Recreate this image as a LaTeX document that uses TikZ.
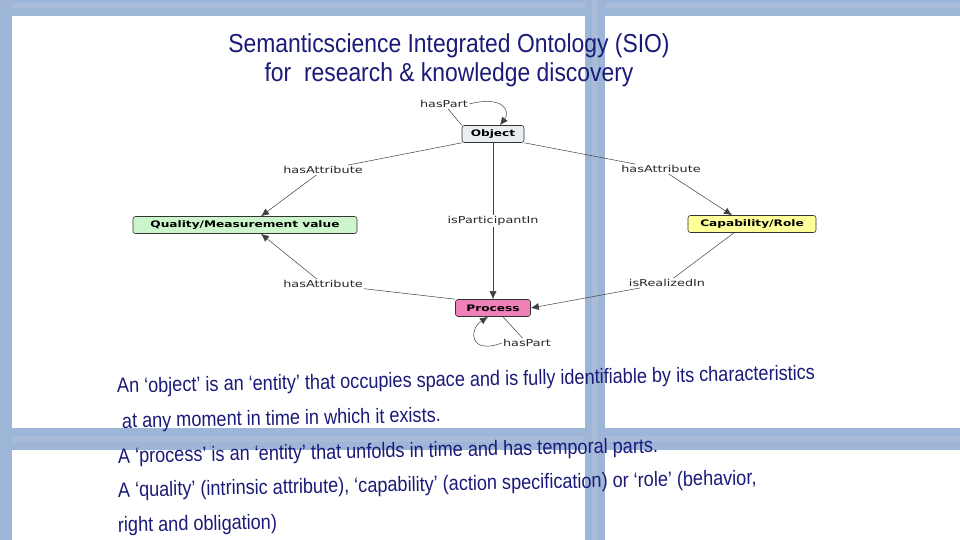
\documentclass[tikz,border=0pt]{standalone}
\usepackage{fontspec}
\setmainfont{Liberation Sans}
\newfontfamily\titlef[FakeStretch=0.88]{Liberation Sans}
\newfontfamily\bodyf[FakeStretch=0.87]{Liberation Sans}
\newfontfamily\boxf[FakeStretch=1.35]{DejaVu Sans}
\usetikzlibrary{arrows.meta}
\definecolor{frameblue}{HTML}{9DB6D8}
\definecolor{framedark}{HTML}{6E8FC0}
\definecolor{navy}{HTML}{1A1A78}
\definecolor{qgreen}{HTML}{CCF5CC}
\definecolor{cyellow}{HTML}{FFFF99}
\definecolor{ppink}{HTML}{F080B8}
\definecolor{ogray}{HTML}{E8EEF2}
\tikzset{
  cls/.style={draw=black!80, rounded corners=2.5pt, line width=0.6pt, font=\boxf\bfseries\fontsize{9}{10}\selectfont, inner sep=0pt, minimum height=17, text=black},
  rel/.style={font=\boxf\fontsize{9.5}{10}\selectfont, inner sep=1pt, text=black!85},
  edge/.style={draw=black!75, line width=0.5pt},
  arr/.style={edge, -{Latex[length=8pt,width=7pt]}},
  body/.style={font=\bodyf\fontsize{20.8}{22}\selectfont, text=navy, anchor=base west, rotate=1.1, inner sep=0pt},
  bar/.style={fill=frameblue, draw=none},
}
\begin{document}
\begin{tikzpicture}[x=1pt,y=-1pt]
\useasboundingbox (0,0) rectangle (960,540);
\fill[white] (0,0) rectangle (960,540);
% frame bars
\fill[bar] (0,0) rectangle (960,16);
\fill[framedark!60] (0,3) rectangle (960,8);
\fill[bar] (0,428) rectangle (960,450);
\fill[framedark!60] (0,436) rectangle (960,442);
\fill[bar] (0,0) rectangle (12,540);
\fill[bar] (585,0) rectangle (605,540);
\fill[framedark!60] (592,0) rectangle (598,540);
% title
\node[font=\titlef\fontsize{26}{29}\selectfont, text=navy, align=center] (title) at (449,60) {Semanticscience Integrated Ontology (SIO)\\for\ \ research \& knowledge discovery};
% classes
\node[cls, fill=ogray, minimum width=62] (obj) at (493,134) {Object};
\node[cls, fill=qgreen, minimum width=224] (q) at (245,225) {Quality/Measurement value};
\node[cls, fill=cyellow, minimum width=128] (cap) at (752,224) {Capability/Role};
\node[cls, fill=ppink, minimum width=75] (proc) at (493,308) {Process};
% relation labels
\node[rel] (hp1) at (444,104) {hasPart};
\node[rel] (ha1) at (323,170) {hasAttribute};
\node[rel] (ha2) at (661,169) {hasAttribute};
\node[rel] (ipi) at (493,221) {isParticipantIn};
\node[rel] (ha3) at (323,284) {hasAttribute};
\node[rel] (iri) at (667,283) {isRealizedIn};
\node[rel] (hp2) at (527,343) {hasPart};
% connectors
\draw[edge] (hp1) -- (obj.north west);
\draw[arr] (hp1.east) .. controls (505,95) and (510,112) .. ([xshift=7pt]obj.north);
\draw[edge] (obj.south west) -- (ha1);
\draw[arr] (ha1) -- ([xshift=16pt]q.north);
\draw[edge] (obj.south east) -- (ha2);
\draw[arr] (ha2) -- ([xshift=-20pt]cap.north);
\draw[edge] (obj) -- (ipi);
\draw[arr] (ipi) -- (proc);
\draw[edge] (proc.north west) -- (ha3);
\draw[arr] (ha3) -- ([xshift=16pt]q.south);
\draw[edge] ([xshift=-18pt]cap.south) -- (iri);
\draw[arr] (iri) -- (proc.east);
\draw[edge] ([xshift=10pt]proc.south) -- (hp2);
\draw[arr] (hp2.west) .. controls (470,355) and (468,330) .. ([xshift=-5pt]proc.south);
% body text
\node[body] (t1) at (117,393) {An ‘object’ is an ‘entity’ that occupies space and is fully identifiable by its characteristics};
\node[body] (t2) at (122,428) {at any moment in time in which it exists.};
\node[body] (t3) at (118,463) {A ‘process’ is an ‘entity’ that unfolds in time and has temporal parts.};
\node[body] (t4) at (118,497) {A ‘quality’ (intrinsic attribute), ‘capability’ (action specification) or ‘role’ (behavior,};
\node[body] (t5) at (118,532) {right and obligation)};
\end{tikzpicture}
\end{document}
